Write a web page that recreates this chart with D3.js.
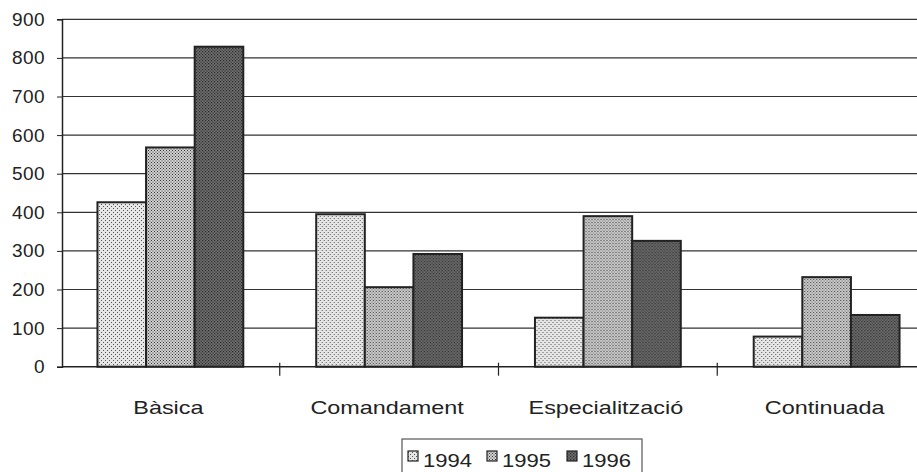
<!DOCTYPE html>
<html>
<head>
<meta charset="utf-8">
<script src="https://cdn.jsdelivr.net/npm/d3@7"></script>
<style>
  body { margin: 0; background: #fff; }
  svg { display: block; font-family: Arial, "Liberation Sans", sans-serif; }
</style>
</head>
<body>
<svg id="chart"></svg>
<script>
const categories = ["Bàsica", "Comandament", "Especialització", "Continuada"];
const years = ["1994", "1995", "1996"];
const values1994 = [426, 395, 127, 78];
const values1995 = [568, 206, 390, 232];
const values1996 = [829, 292, 326, 134];
const yTicks = [0, 100, 200, 300, 400, 500, 600, 700, 800, 900];

const width = 917, height = 472;
const svg = d3.select("#chart").attr("width", width).attr("height", height);

const series = [values1994, values1995, values1996];
const rows = categories.map((c, i) => ({ cat: c, vals: years.map((y, j) => ({ year: y, v: series[j][i] })) }));

// Scales
const x0 = d3.scaleBand().domain(categories).range([61, 936]).paddingInner(0).paddingOuter(0);
const x1 = d3.scaleBand().domain(years).range([0, x0.bandwidth()]).paddingInner(0).paddingOuter(0.75);
const y = d3.scaleLinear().domain([0, 900]).range([366.7, 19.3]);

// Dot patterns for fills
const defs = svg.append("defs");
function dotPattern(id, bg, dot, size, r) {
  const p = defs.append("pattern").attr("id", id)
    .attr("patternUnits", "userSpaceOnUse").attr("width", size).attr("height", size);
  p.append("rect").attr("width", size).attr("height", size).attr("fill", bg);
  p.append("rect").attr("x", 0).attr("y", 0).attr("width", r).attr("height", r).attr("fill", dot);
  p.append("rect").attr("x", size / 2).attr("y", size / 2).attr("width", r).attr("height", r).attr("fill", dot);
}
dotPattern("p1994", "#e6e6e6", "#555", 4, 1);
dotPattern("p1995", "#d2d2d2", "#333", 3, 1);
dotPattern("p1996", "#707070", "#2a2a2a", 3, 1.2);
const fills = { "1994": "url(#p1994)", "1995": "url(#p1995)", "1996": "url(#p1996)" };

// Gridlines
svg.append("g").selectAll("line").data(yTicks.slice(1)).enter().append("line")
  .attr("x1", 62).attr("x2", width)
  .attr("y1", d => y(d)).attr("y2", d => y(d))
  .attr("stroke", "#333").attr("stroke-width", 1.2);

// Bars
const groups = svg.append("g").selectAll("g").data(rows).enter().append("g")
  .attr("transform", d => `translate(${x0(d.cat)},0)`);
groups.selectAll("rect").data(d => d.vals).enter().append("rect")
  .attr("x", d => x1(d.year))
  .attr("y", d => y(d.v))
  .attr("width", x1.bandwidth())
  .attr("height", d => y(0) - y(d.v))
  .attr("fill", d => fills[d.year])
  .attr("stroke", "#222").attr("stroke-width", 2);

// Y axis
const yAxis = d3.axisLeft(y).tickValues(yTicks).tickSize(5).tickPadding(12);
const gy = svg.append("g").attr("transform", "translate(62,0)").call(yAxis);
gy.select(".domain").attr("stroke", "#222").attr("stroke-width", 1.5);
gy.selectAll(".tick line").attr("stroke", "#222");
gy.selectAll("text").attr("font-size", 19).attr("fill", "#222")
  .attr("letter-spacing", 0.4)
  .attr("font-family", "Arial, 'Liberation Sans', sans-serif");

// X axis
svg.append("line").attr("x1", 62).attr("x2", width).attr("y1", y(0)).attr("y2", y(0))
  .attr("stroke", "#222").attr("stroke-width", 1.5);
svg.append("g").selectAll("line").data(categories.slice(1)).enter().append("line")
  .attr("x1", d => x0(d)).attr("x2", d => x0(d))
  .attr("y1", y(0) - 4).attr("y2", y(0) + 9)
  .attr("stroke", "#222").attr("stroke-width", 1.2);
// category labels, horizontally stretched like the scanned original
svg.append("g").selectAll("text").data(categories).enter().append("text")
  .attr("transform", d => `translate(${x0(d) + x0.bandwidth() / 2 - 2},414) scale(1.3,1)`)
  .attr("text-anchor", "middle")
  .attr("font-size", 18).attr("fill", "#222")
  .text(d => d);

// Legend
const lg = svg.append("g");
lg.append("rect").attr("x", 402).attr("y", 439).attr("width", 240).attr("height", 40)
  .attr("fill", "none").attr("stroke", "#555").attr("stroke-width", 1.2);
const legendX = [408, 487, 567];
years.forEach((yr, i) => {
  lg.append("rect").attr("x", legendX[i]).attr("y", 451).attr("width", 10).attr("height", 10)
    .attr("fill", fills[yr]).attr("stroke", "#222").attr("stroke-width", 1.2);
  lg.append("text").attr("transform", `translate(${legendX[i] + 15},467) scale(1.16,1)`)
    .attr("font-size", 19).attr("fill", "#222").text(yr);
});
</script>
</body>
</html>
